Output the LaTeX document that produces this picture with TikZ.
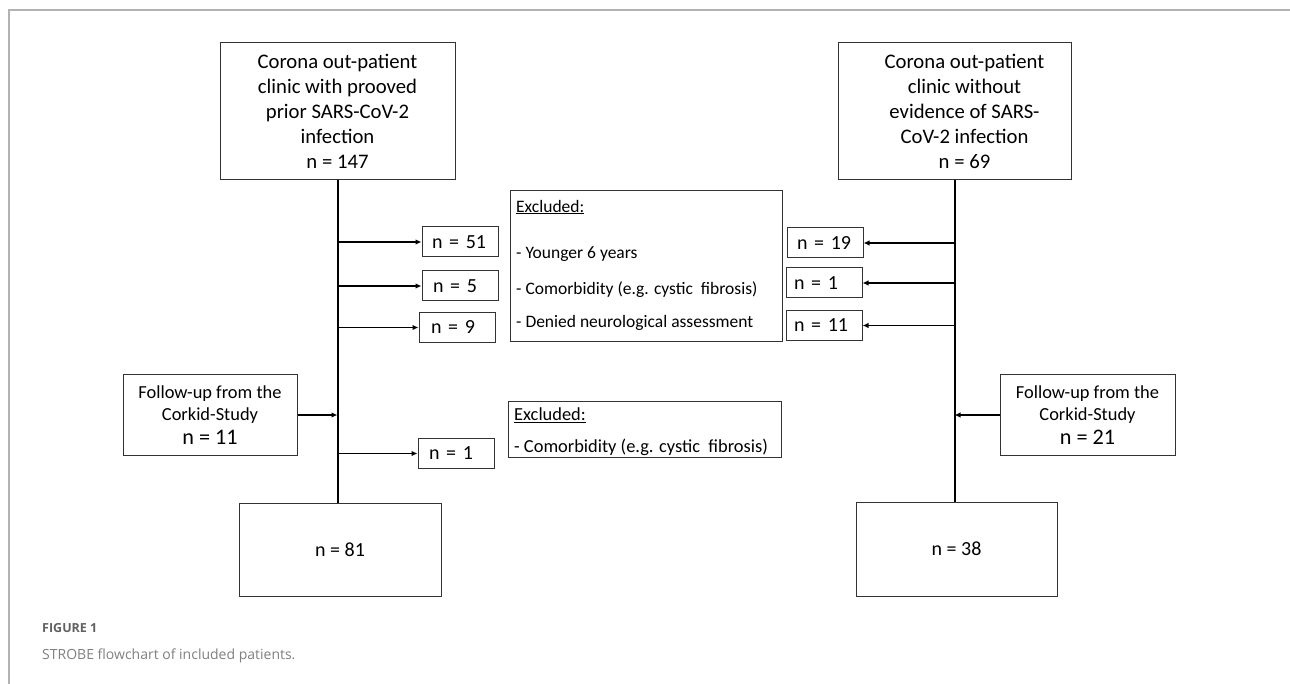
\documentclass[tikz,border=0pt]{standalone}
\usepackage{fontspec}
\setmainfont{Carlito}
\newfontfamily\capfont{Open Sans}
\usetikzlibrary{arrows.meta}
\usetikzlibrary{positioning}

\begin{document}
\begin{tikzpicture}[x=1pt,y=-1pt,
  box/.style={draw=black!80,line width=1pt,align=center,inner sep=0pt},
  nbox/.style={box,minimum height=30pt,text width=60pt,inner xsep=8pt,align=left,font=\fontsize{20}{24}\selectfont},
  trunk/.style={line width=2pt},
  arr/.style={line width=1.8pt,-{Latex[length=6pt,width=5.5pt]}},
  extxt/.style={anchor=west,inner sep=0pt,font=\fontsize{17.5}{21}\selectfont}]
\useasboundingbox (0,0) rectangle (1290,684);
\draw[black!30,line width=1.5pt] (9,684) -- (9,10) -- (1290,10);

\node[box,minimum width=235pt,minimum height=137pt,font=\fontsize{20.7}{25}\selectfont] (topL) at (337.5,111.5) {Corona out-patient\\clinic with prooved\\prior SARS-CoV-2\\infection\\n = 147};
\node[box,minimum width=233pt,minimum height=137pt,font=\fontsize{20.7}{25}\selectfont] (topR) at (954.5,111.5) {\hspace*{20pt}Corona out-patient\\\hspace*{20pt}clinic without\\\hspace*{20pt}evidence of SARS-\\\hspace*{20pt}CoV-2 infection\\\hspace*{20pt}n = 69};

\node[nbox] (nA) at (460,242) {\hspace*{2pt}n = 51};
\node[nbox] (nB) at (460,286) {\hspace*{3pt}n = 5};
\node[nbox] (nC) at (457,327.5) {\hspace*{4pt}n = 9};
\node[nbox] (nD) at (825,243) {\hspace*{2pt}n = 19};
\node[nbox] (nE) at (824,283) {n = 1};
\node[nbox] (nF) at (824,325.5) {n = 11};
\node[nbox] (nG) at (456,453.5) {\hspace*{3pt}n = 1};

\node[box,minimum width=272pt,minimum height=151pt] (exA) at (646,266.5) {};
\node[extxt] (exA1) at (516,207) {\underline{Excluded:}};
\node[extxt] (exA2) at (516,254) {- Younger 6 years};
\node[extxt] (exA3) at (516,290) {- Comorbidity (e.g. cystic\ \ fibrosis)};
\node[extxt] (exA4) at (516,323) {- Denied neurological assessment};

\node[box,minimum width=273pt,minimum height=56pt] (exB) at (644.5,429) {};
\node[extxt,font=\fontsize{18.4}{22}\selectfont] (exB1) at (514,415) {\underline{Excluded:}};
\node[extxt,font=\fontsize{18.4}{22}\selectfont] (exB2) at (514,447) {- Comorbidity (e.g. cystic\ \ fibrosis)};

\node[box,minimum width=174pt,minimum height=80pt,font=\fontsize{18.4}{22}\selectfont] (fuL) at (210,415) {Follow-up from the\\Corkid-Study\\[2pt]{\fontsize{22.2}{26}\selectfont n = 11}};
\node[box,minimum width=175pt,minimum height=80pt,font=\fontsize{18.4}{22}\selectfont] (fuR) at (1087.5,415) {Follow-up from the\\Corkid-Study\\[2pt]{\fontsize{22.2}{26}\selectfont n = 21}};

\node[box,minimum width=202pt,minimum height=93pt,font=\fontsize{20}{24}\selectfont] (botL) at (340,549.5) {\raisebox{-6pt}{n = 81}};
\node[box,minimum width=201pt,minimum height=94pt,font=\fontsize{20}{24}\selectfont] (botR) at (956.5,549) {n = 38};

\draw[trunk] (topL.south) -- (topL.south |- botL.north);
\draw[trunk] (topR.south) -- (topR.south |- botR.north);

\draw[arr] (topL.south |- nA) -- (nA);
\draw[arr] (topL.south |- nB) -- (nB);
\draw[arr] (topL.south |- nC) -- (nC);
\draw[arr] (topL.south |- nG) -- (nG);
\draw[arr] (fuL) -- (fuL -| topL.south);

\draw[arr] (topR.south |- nD) -- (nD);
\draw[arr] (topR.south |- nE) -- (nE);
\draw[arr] (topR.south |- nF) -- (nF);
\draw[arr] (fuR) -- (fuR -| topR.south);

\node[anchor=west,inner sep=0pt,font=\capfont\bfseries\fontsize{12.5}{15}\selectfont,text=black!62] (figno) at (42,628) {FIGURE 1};
\node[anchor=west,inner sep=0pt,font=\capfont\fontsize{14}{17}\selectfont,text=black!50] (cap) at (42,656) {STROBE flowchart of included patients.};

\end{tikzpicture}
\end{document}
